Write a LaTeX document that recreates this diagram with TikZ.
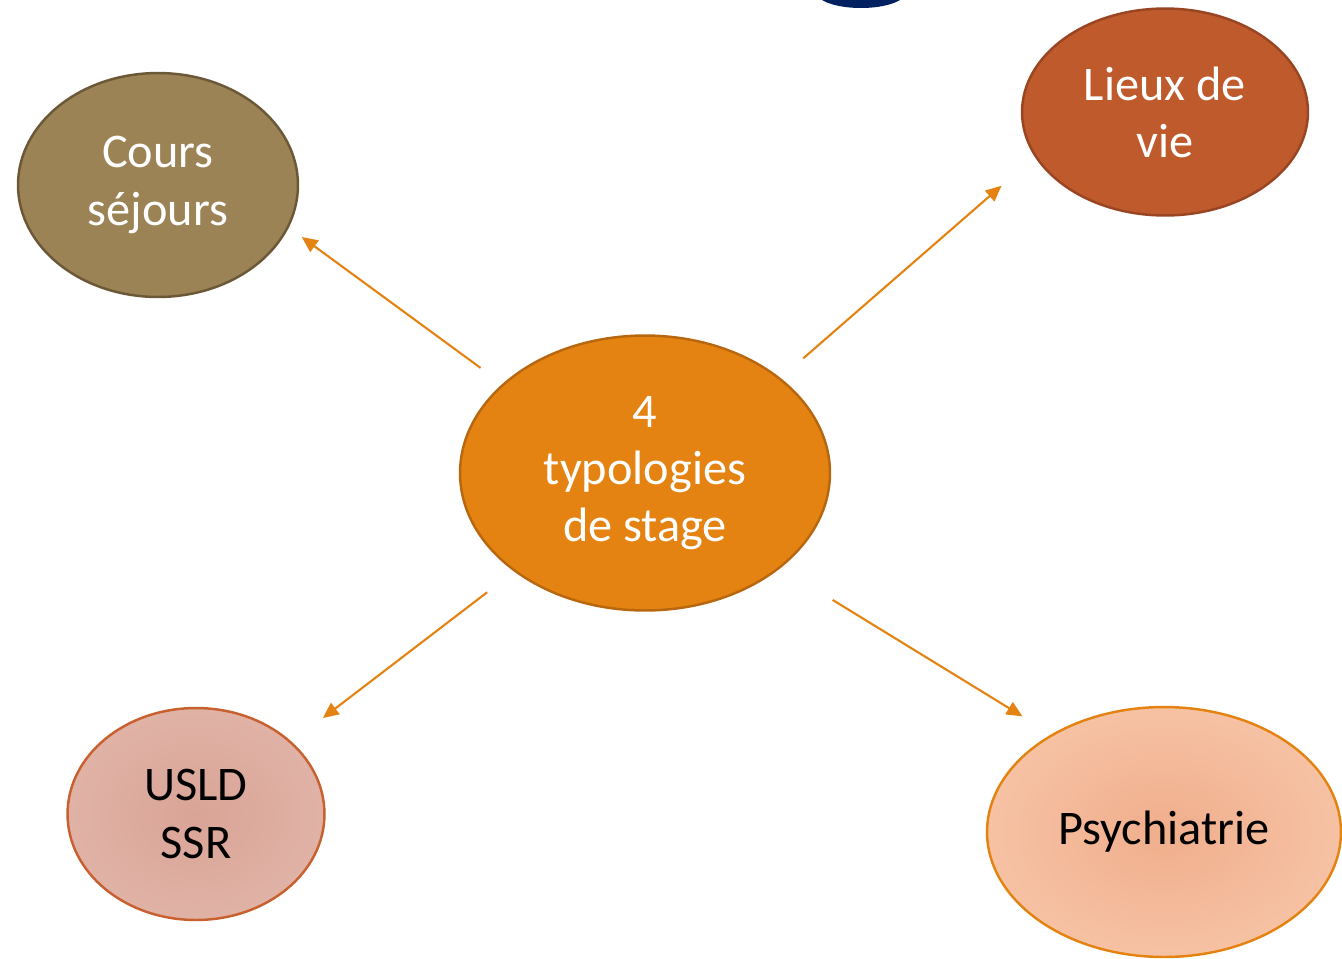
\documentclass[tikz,border=0pt]{standalone}
\usepackage{fontspec}
\setmainfont{Carlito}
\usepackage{xcolor}
\usetikzlibrary{calc,shapes.geometric,arrows.meta}

\definecolor{courscol}{HTML}{9C8356}
\definecolor{coursline}{HTML}{6B5836}
\definecolor{lieuxcol}{HTML}{BF5A2C}
\definecolor{lieuxline}{HTML}{9A4522}
\definecolor{typocol}{HTML}{E48312}
\definecolor{typoline}{HTML}{B8670F}
\definecolor{usldin}{HTML}{D9A496}
\definecolor{usldout}{HTML}{E0B2A6}
\definecolor{usldline}{HTML}{C8602F}
\definecolor{psyin}{HTML}{F0AE8C}
\definecolor{psyout}{HTML}{F6C2A4}
\definecolor{topblue}{HTML}{002060}

\begin{document}
\begin{tikzpicture}[x=0.02cm,y=-0.02cm,
    ovalnode/.style={ellipse, inner sep=0pt, line width=1.4pt, align=center, font=\fontsize{27.5}{32.5}\selectfont}]
            \useasboundingbox (0,0) rectangle (1342,958);
            \begin{scope}
            \clip (0,0) rectangle (1342,958);
            \fill[topblue] (861,-8) ellipse [x radius=0.9cm, y radius=0.32cm];
            \end{scope}

            \node[ovalnode, draw=typoline, fill=typocol, text=white, minimum width=7.4cm, minimum height=5.5cm] (T) at (645,473) {4\\typologies\\de stage};
            \node[ovalnode, draw=coursline, fill=courscol, text=white, minimum width=5.6cm, minimum height=4.48cm] (C) at (158,185) {Cours\\séjours};
            \node[ovalnode, draw=lieuxline, fill=lieuxcol, text=white, minimum width=5.72cm, minimum height=4.14cm] (L) at (1165,112) {Lieux de\\vie};
            \node[ovalnode, draw=usldline, inner color=usldin, outer color=usldout, minimum width=5.14cm, minimum height=4.24cm] (U) at (196,814) {USLD\\SSR};
            \node[ovalnode, draw=typocol, inner color=psyin, outer color=psyout, minimum width=7.08cm, minimum height=5cm] (P) at (1164,832) {Psychiatrie};

            \tikzset{mystyle/.style={-{Triangle[length=9pt,width=8pt]}, draw=typocol, line width=1.2pt}}

            \draw[mystyle, shorten <=0.54cm, shorten >=0.32cm] (T.148.2) -- (C.-18.4);
            \draw[mystyle, shorten <=0.6cm, shorten >=0.88cm] (T.35.9) -- (L.-161.7);
            \draw[mystyle, shorten <=0.68cm, shorten >=0.78cm] (T.217.4) -- (U.37.7);
            \draw[mystyle, shorten <=1.22cm, shorten >=0.68cm] (T.-35.3) -- (P.139.6);

        \end{tikzpicture}
\end{document}
